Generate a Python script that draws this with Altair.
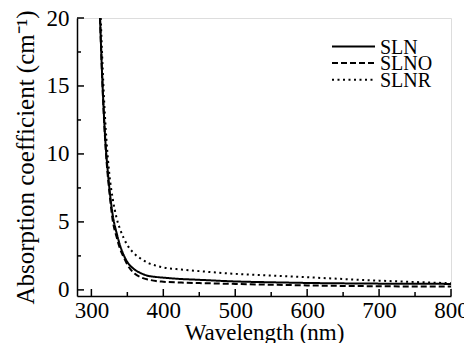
import altair as alt
import pandas as pd

series_names = ["SLN", "SLNO", "SLNR"]

wl_sln = [312, 316, 320, 322, 325, 330, 335, 340, 345, 350, 360, 370, 380, 390, 400, 425, 450, 500, 550, 600, 650, 700, 750, 800]
val_sln = [20, 14.5, 10.5, 9.2, 7.5, 5.4, 4.2, 3.25, 2.55, 2.05, 1.5, 1.2, 1.02, 0.95, 0.9, 0.8, 0.74, 0.62, 0.56, 0.51, 0.48, 0.46, 0.45, 0.44]

wl_slno = [312, 316, 320, 325, 330, 335, 340, 345, 350, 360, 370, 380, 390, 400, 425, 450, 500, 550, 600, 650, 700, 750, 800]
val_slno = [20, 14.3, 10.3, 7.2, 5.0, 3.9, 3.0, 2.4, 1.85, 1.2, 0.9, 0.75, 0.65, 0.6, 0.54, 0.5, 0.44, 0.38, 0.33, 0.29, 0.27, 0.25, 0.24]

wl_slnr = [313, 317, 321, 325, 330, 335, 340, 345, 350, 360, 370, 380, 390, 400, 425, 450, 500, 550, 600, 650, 700, 750, 800]
val_slnr = [20, 14.7, 11, 8.5, 6.6, 5.3, 4.45, 3.8, 3.3, 2.65, 2.25, 1.95, 1.78, 1.65, 1.5, 1.38, 1.18, 1.05, 0.93, 0.8, 0.68, 0.58, 0.49]

x_major = [300, 400, 500, 600, 700, 800]
x_minor = [350, 450, 550, 650, 750]
y_major = [0, 5, 10, 15, 20]
y_minor = [2.5, 7.5, 12.5, 17.5]

dash_styles = {"SLN": [1, 0], "SLNO": [6, 3], "SLNR": [2, 3.5]}

rows = []
for name, xs, ys in [("SLN", wl_sln, val_sln), ("SLNO", wl_slno, val_slno), ("SLNR", wl_slnr, val_slnr)]:
    for x, y in zip(xs, ys):
        rows.append({"series": name, "wl": x, "val": y})
df = pd.DataFrame(rows)

FONT = "Liberation Serif"
xscale = alt.Scale(domain=[280, 800], nice=False, zero=False)
yscale = alt.Scale(domain=[-0.45, 20], nice=False, zero=False)

lines = alt.Chart(df).mark_line(color="black", strokeWidth=2, interpolate="monotone", clip=True).encode(
    x=alt.X("wl:Q", scale=xscale, title="Wavelength (nm)",
            axis=alt.Axis(values=x_major, ticks=False, labelFontSize=23, titleFontSize=23,
                          labelFont=FONT, titleFont=FONT, labelColor="black", titleColor="black",
                          titleFontWeight="normal",
                          domainColor="black", domainWidth=1.5, labelPadding=3, titlePadding=-1,
                          grid=False, labelFlush=False)),
    y=alt.Y("val:Q", scale=yscale, title="Absorption coefficient (cm⁻¹)",
            axis=alt.Axis(values=y_major, ticks=False, labelFontSize=23, titleFontSize=25,
                          labelFont=FONT, titleFont=FONT, labelColor="black", titleColor="black",
                          titleFontWeight="normal",
                          domainColor="black", domainWidth=1.5, labelPadding=8, titlePadding=8,
                          grid=False, labelFlush=False)),
    strokeDash=alt.StrokeDash("series:N",
        scale=alt.Scale(domain=series_names, range=[dash_styles[s] for s in series_names]),
        legend=None),
)

layers = [lines]

# legend (manual, compact rows like the reference)
for i, name in enumerate(series_names):
    yy = 28.5 + i * 16.6
    layers.append(
        alt.Chart(pd.DataFrame({"series": [name]})).mark_rule(
            color="black", strokeWidth=2, strokeDash=dash_styles[name]
        ).encode(x=alt.value(255), x2=alt.value(298), y=alt.value(yy))
    )
    layers.append(
        alt.Chart(pd.DataFrame({"series": [name]})).mark_text(
            font=FONT, fontSize=20, color="black", align="left", baseline="middle"
        ).encode(text="series:N", x=alt.value(303), y=alt.value(yy + 1))
    )

xmaj = alt.Chart(pd.DataFrame({"t": x_major})).mark_rule(color="black", strokeWidth=1.5).encode(
    x=alt.X("t:Q", scale=xscale), y=alt.value(278), y2=alt.value(271))
xmin = alt.Chart(pd.DataFrame({"t": x_minor})).mark_rule(color="black", strokeWidth=1.5).encode(
    x=alt.X("t:Q", scale=xscale), y=alt.value(278), y2=alt.value(274))
ymaj = alt.Chart(pd.DataFrame({"t": y_major})).mark_rule(color="black", strokeWidth=1.5).encode(
    y=alt.Y("t:Q", scale=yscale), x=alt.value(0), x2=alt.value(7))
ymin = alt.Chart(pd.DataFrame({"t": y_minor})).mark_rule(color="black", strokeWidth=1.5).encode(
    y=alt.Y("t:Q", scale=yscale), x=alt.value(0), x2=alt.value(4))
layers += [xmaj, xmin, ymaj, ymin]

chart = alt.layer(*layers).properties(
    width=374, height=278,
    autosize=alt.AutoSizeParams(type="none"),
    padding={"left": 69, "top": 10, "right": 13, "bottom": 47},
).configure_view(stroke="black", strokeWidth=1.5).configure(background="white")

chart.save("out.html", embed_options={"renderer": "svg", "actions": False})
